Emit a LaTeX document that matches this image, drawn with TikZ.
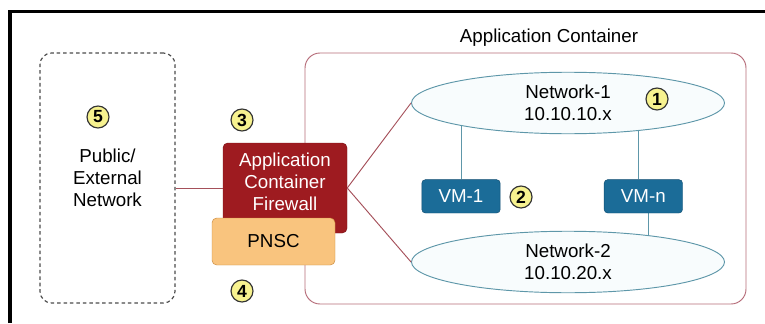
\documentclass[tikz,border=0pt]{standalone}
\usepackage{fontspec}
\setmainfont{Liberation Sans}
\usetikzlibrary{shapes.geometric,backgrounds}
\definecolor{fwred}{HTML}{9E1B20}
\definecolor{pnscor}{HTML}{F9C47E}
\definecolor{pnscdark}{HTML}{C98A3E}
\definecolor{vmblue}{HTML}{1B6C98}
\definecolor{vmdark}{HTML}{114E72}
\definecolor{netblue}{HTML}{5E97A9}
\definecolor{netfill}{HTML}{F8FCFD}
\definecolor{contred}{HTML}{B56B78}
\definecolor{linkred}{HTML}{A5505A}
\definecolor{badgeyel}{HTML}{F7F28F}

\begin{document}
\begin{tikzpicture}[font=\fontsize{16}{18.7}\selectfont]
\tikzstyle{badge}=[circle,draw=black!80,line width=1pt,fill=badgeyel,minimum size=0.66cm,inner sep=0pt,font=\fontsize{15}{15}\selectfont\bfseries]
\tikzstyle{net}=[ellipse,draw=netblue,line width=0.8pt,fill=netfill,minimum width=9.39cm,minimum height=1.75cm,align=center]
\tikzstyle{vm}=[draw=vmdark,fill=vmblue,rounded corners=3pt,text=white,minimum width=2.35cm,minimum height=1cm]
\tikzstyle{link}=[draw=linkred,line width=0.8pt]
\tikzstyle{vlink}=[draw=netblue,line width=0.8pt]
\useasboundingbox (0,0) rectangle (22.95,9.69);
\draw[line width=3.4pt] (0.3,0) -- (0.3,9.345) -- (22.95,9.345);
\node[draw=gray!60!black,dash pattern=on 3pt off 2.5pt,line width=1pt,rounded corners=0.35cm,minimum width=4.05cm,minimum height=7.5cm,align=center] (pub) at (3.225,4.35) {Public/\\External\\Network};
\node[draw=contred,line width=0.8pt,rounded corners=0.45cm,minimum width=13.23cm,minimum height=7.53cm] (cont) at (15.765,4.335) {};
\node (title) at (16.47,8.55) {Application Container};
\node[fill=fwred,draw=fwred!80!black,rounded corners=4pt,minimum width=3.72cm,minimum height=2.7cm] (fw) at (8.55,4.05) {};
\node[fill=pnscor,draw=pnscdark,rounded corners=4pt,minimum width=3.69cm,minimum height=1.41cm] (pnsc) at (8.205,2.445) {PNSC};
\node[text=white,align=center] (fwtext) at (8.55,4.23) {Application\\Container\\Firewall};
\node[net] (net1) at (17.04,6.6) {Network-1\\10.10.10.x};
\node[net] (net2) at (17.04,1.83) {Network-2\\10.10.20.x};
\node[vm] (vm1) at (13.83,3.8) {VM-1};
\node[vm] (vmn) at (19.3,3.8) {VM-n};
\node[badge] (b1) at (19.71,6.72) {1};
\node[badge] (b2) at (15.63,3.78) {2};
\node[badge] (b3) at (7.26,6.09) {3};
\node[badge] (b4) at (7.26,0.96) {4};
\node[badge] (b5) at (2.94,6.18) {5};
\draw[link] (fw.west -| pub.east) -- (fw.west);
\draw[link] (fw.east) -- (net1.west);
\draw[link] (fw.east) -- (net2.west);
\begin{scope}[on background layer]
\draw[vlink] (vm1.north) -- (vm1.north |- net1.center);
\draw[vlink] ([xshift=-4pt]vmn.north) -- ([xshift=-4pt]vmn.north |- net1.center);
\draw[vlink] ([xshift=4pt]vmn.south) -- ([xshift=4pt]vmn.south |- net2.center);
\end{scope}
\end{tikzpicture}
\end{document}
